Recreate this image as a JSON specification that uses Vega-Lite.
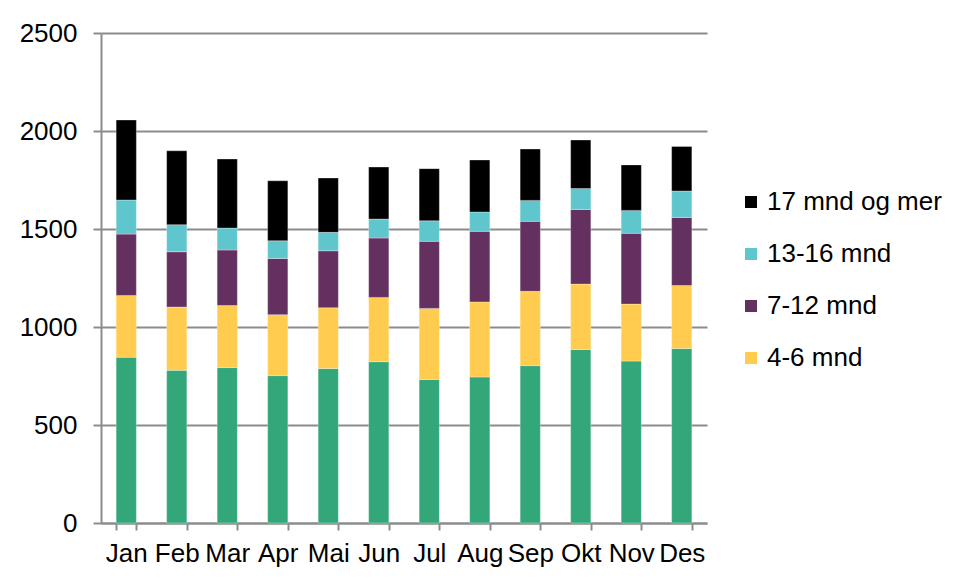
{
  "$schema": "https://vega.github.io/schema/vega-lite/v6.json",
  "autosize": {"type": "none"},
  "padding": {"left": 101, "top": 33, "right": 250, "bottom": 56},
  "width": 606,
  "height": 490,
  "background": "#ffffff",
  "data": {
    "values": [
      {"month": "Jan", "series": "0-3 mnd", "k": 1, "value": 846},
      {"month": "Feb", "series": "0-3 mnd", "k": 1, "value": 779},
      {"month": "Mar", "series": "0-3 mnd", "k": 1, "value": 793},
      {"month": "Apr", "series": "0-3 mnd", "k": 1, "value": 752},
      {"month": "Mai", "series": "0-3 mnd", "k": 1, "value": 788},
      {"month": "Jun", "series": "0-3 mnd", "k": 1, "value": 823},
      {"month": "Jul", "series": "0-3 mnd", "k": 1, "value": 732},
      {"month": "Aug", "series": "0-3 mnd", "k": 1, "value": 745},
      {"month": "Sep", "series": "0-3 mnd", "k": 1, "value": 803},
      {"month": "Okt", "series": "0-3 mnd", "k": 1, "value": 885},
      {"month": "Nov", "series": "0-3 mnd", "k": 1, "value": 826},
      {"month": "Des", "series": "0-3 mnd", "k": 1, "value": 890},
      {"month": "Jan", "series": "4-6 mnd", "k": 2, "value": 315},
      {"month": "Feb", "series": "4-6 mnd", "k": 2, "value": 323},
      {"month": "Mar", "series": "4-6 mnd", "k": 2, "value": 317},
      {"month": "Apr", "series": "4-6 mnd", "k": 2, "value": 311},
      {"month": "Mai", "series": "4-6 mnd", "k": 2, "value": 310},
      {"month": "Jun", "series": "4-6 mnd", "k": 2, "value": 328},
      {"month": "Jul", "series": "4-6 mnd", "k": 2, "value": 363},
      {"month": "Aug", "series": "4-6 mnd", "k": 2, "value": 383},
      {"month": "Sep", "series": "4-6 mnd", "k": 2, "value": 379},
      {"month": "Okt", "series": "4-6 mnd", "k": 2, "value": 334},
      {"month": "Nov", "series": "4-6 mnd", "k": 2, "value": 291},
      {"month": "Des", "series": "4-6 mnd", "k": 2, "value": 322},
      {"month": "Jan", "series": "7-12 mnd", "k": 3, "value": 313},
      {"month": "Feb", "series": "7-12 mnd", "k": 3, "value": 282},
      {"month": "Mar", "series": "7-12 mnd", "k": 3, "value": 283},
      {"month": "Apr", "series": "7-12 mnd", "k": 3, "value": 287},
      {"month": "Mai", "series": "7-12 mnd", "k": 3, "value": 291},
      {"month": "Jun", "series": "7-12 mnd", "k": 3, "value": 303},
      {"month": "Jul", "series": "7-12 mnd", "k": 3, "value": 342},
      {"month": "Aug", "series": "7-12 mnd", "k": 3, "value": 360},
      {"month": "Sep", "series": "7-12 mnd", "k": 3, "value": 357},
      {"month": "Okt", "series": "7-12 mnd", "k": 3, "value": 381},
      {"month": "Nov", "series": "7-12 mnd", "k": 3, "value": 361},
      {"month": "Des", "series": "7-12 mnd", "k": 3, "value": 347},
      {"month": "Jan", "series": "13-16 mnd", "k": 4, "value": 174},
      {"month": "Feb", "series": "13-16 mnd", "k": 4, "value": 138},
      {"month": "Mar", "series": "13-16 mnd", "k": 4, "value": 112},
      {"month": "Apr", "series": "13-16 mnd", "k": 4, "value": 90},
      {"month": "Mai", "series": "13-16 mnd", "k": 4, "value": 94},
      {"month": "Jun", "series": "13-16 mnd", "k": 4, "value": 97},
      {"month": "Jul", "series": "13-16 mnd", "k": 4, "value": 105},
      {"month": "Aug", "series": "13-16 mnd", "k": 4, "value": 99},
      {"month": "Sep", "series": "13-16 mnd", "k": 4, "value": 107},
      {"month": "Okt", "series": "13-16 mnd", "k": 4, "value": 107},
      {"month": "Nov", "series": "13-16 mnd", "k": 4, "value": 117},
      {"month": "Des", "series": "13-16 mnd", "k": 4, "value": 135},
      {"month": "Jan", "series": "17 mnd og mer", "k": 5, "value": 408},
      {"month": "Feb", "series": "17 mnd og mer", "k": 5, "value": 377},
      {"month": "Mar", "series": "17 mnd og mer", "k": 5, "value": 352},
      {"month": "Apr", "series": "17 mnd og mer", "k": 5, "value": 306},
      {"month": "Mai", "series": "17 mnd og mer", "k": 5, "value": 277},
      {"month": "Jun", "series": "17 mnd og mer", "k": 5, "value": 265},
      {"month": "Jul", "series": "17 mnd og mer", "k": 5, "value": 266},
      {"month": "Aug", "series": "17 mnd og mer", "k": 5, "value": 265},
      {"month": "Sep", "series": "17 mnd og mer", "k": 5, "value": 262},
      {"month": "Okt", "series": "17 mnd og mer", "k": 5, "value": 247},
      {"month": "Nov", "series": "17 mnd og mer", "k": 5, "value": 232},
      {"month": "Des", "series": "17 mnd og mer", "k": 5, "value": 227}
    ]
  },
  "mark": {"type": "bar", "stroke": "#ffffff", "strokeWidth": 0.5, "strokeOpacity": 0.6},
  "encoding": {
    "x": {
      "field": "month",
      "type": "nominal",
      "sort": ["Jan", "Feb", "Mar", "Apr", "Mai", "Jun", "Jul", "Aug", "Sep", "Okt", "Nov", "Des"],
      "scale": {"paddingInner": 0.6, "paddingOuter": 0.3},
      "axis": {
        "title": null,
        "labelAngle": 0,
        "labelFont": "Liberation Sans",
        "labelFontSize": 26,
        "labelColor": "#000000",
        "labelPadding": 10,
        "domainColor": "#8c8c8c",
        "domainWidth": 2,
        "tickColor": "#8c8c8c",
        "tickWidth": 2,
        "tickSize": 7,
        "tickBand": "extent",
        "grid": false
      }
    },
    "y": {
      "field": "value",
      "type": "quantitative",
      "stack": "zero",
      "scale": {"domain": [0, 2500], "nice": false},
      "axis": {
        "title": null,
        "values": [0, 500, 1000, 1500, 2000, 2500],
        "format": "d",
        "labelFont": "Liberation Sans",
        "labelFontSize": 26,
        "labelColor": "#000000",
        "labelPadding": 16,
        "domainColor": "#8c8c8c",
        "domainWidth": 2,
        "tickColor": "#8c8c8c",
        "tickWidth": 2,
        "tickSize": 8,
        "grid": true,
        "gridColor": "#8c8c8c",
        "gridWidth": 2
      }
    },
    "color": {
      "field": "series",
      "type": "nominal",
      "scale": {
        "domain": ["0-3 mnd", "4-6 mnd", "7-12 mnd", "13-16 mnd", "17 mnd og mer"],
        "range": ["#34A77A", "#FFCC4F", "#63305F", "#5EC6CC", "#000000"]
      },
      "legend": {
        "title": null,
        "values": ["17 mnd og mer", "13-16 mnd", "7-12 mnd", "4-6 mnd"],
        "orient": "none",
        "legendX": 637,
        "legendY": 156,
        "symbolType": "square",
        "symbolSize": 144,
        "symbolStrokeWidth": 0,
        "labelFont": "Liberation Sans",
        "labelFontSize": 26,
        "labelColor": "#000000",
        "labelOffset": 3,
        "labelLimit": 300,
        "rowPadding": 26
      }
    },
    "order": {"field": "k", "type": "quantitative", "sort": "ascending"}
  },
  "config": {"view": {"stroke": null}}
}
